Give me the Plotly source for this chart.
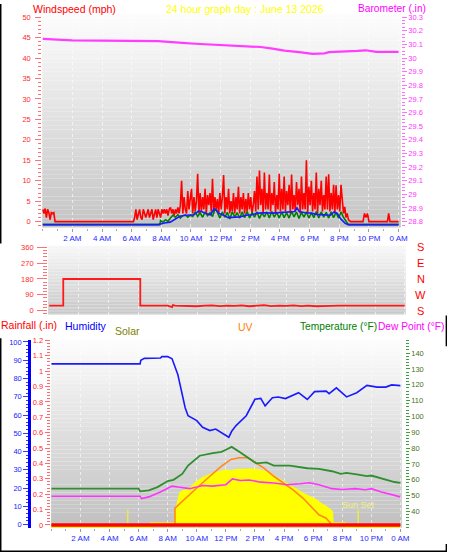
import plotly.graph_objects as go

W, H = 455, 554
FONT = "Liberation Sans, Arial, sans-serif"


def px(x):
    return x / W


def py(y):
    return 1 - y / H


# ============================ DATA ============================
hour_ticks = [2, 4, 6, 8, 10, 12, 14, 16, 18, 20, 22, 24]
hour_labels = ["2 AM", "4 AM", "6 AM", "8 AM", "10 AM", "12 PM",
               "2 PM", "4 PM", "6 PM", "8 PM", "10 PM", "0 AM"]

# ---- Wind gust (mph), 5-minute samples ----
GUST_STEP_H = 5 / 60
gust_night_start_h = 0.0
gust_night = [3, 2, 3.2, 1, 3, 2.2, 0.5, 2.2, 2, 2.2, 0]
gust_calm_t = [6.12]
gust_calm = [0]
gust_day_start_h = 6.2
gust_day = [
    1, 3, 0.5, 2, 3, 1, 0.5, 3, 2, 1, 2, 3,            # 6.2 h
    1, 2, 3, 0.5, 2, 3, 1, 3, 2, 1, 3, 2,              # 7.2 h
    3, 2, 3, 1.5, 3, 3.5, 2, 3, 1.5, 3, 2, 3.5,        # 8.2 h
    2, 4, 10, 2, 6, 3, 2, 7.5, 3, 5, 8, 2,             # 9.2 h
    6, 2.5, 5, 11.7, 2, 7, 2.5, 6, 3, 8, 2, 6.5,       # 10.2 h
    4, 7, 2.5, 10.5, 2, 6, 3, 5.5, 2, 7, 3, 6,         # 11.2 h
    11.4, 2, 6, 3, 8, 2, 5, 2.5, 7, 2, 6, 3,           # 12.2 h
    8.5, 2, 6, 3, 7, 2, 5.5, 2.5, 7, 3, 6, 2,          # 13.2 h
    4, 7.5, 2.5, 11, 3, 12.5, 4, 8, 2, 12, 3, 7,       # 14.2 h
    3, 11.5, 2.5, 7, 4, 9.7, 2, 6.5, 3, 11.7, 2.5, 8,  # 15.2 h
    3, 11, 2.5, 7.5, 4, 9, 2, 11.5, 3, 6.5, 2.5, 9.7,  # 16.2 h
    4, 8, 2, 11, 3, 7, 3, 15, 2, 8.5, 4, 10,           # 17.2 h
    2.5, 7, 3, 12, 2, 8, 4, 10, 2.5, 6.5, 3, 11,       # 18.2 h
    3, 11.6, 2.5, 7, 3, 9, 2, 8.9, 3, 6.5, 2.5, 9,     # 19.2 h
    5, 2, 3.6, 1, 2, 0.5,                              # 20.2 h
]
gust_evening_t = [20.75, 21.6, 21.7, 21.8, 21.9, 22.0, 23.25, 23.33, 23.42, 24.0]
gust_evening = [0, 0, 2, 1, 2, 0, 0, 2, 0, 0]

# ---- Wind average (mph) ----
avg_t = [0, 7.8, 8.2, 8.6, 9.0, 9.3, 9.7, 10.2, 10.5, 10.7,
         11.0, 11.3, 11.55, 11.7, 11.9, 12.2, 12.5, 12.9, 13.3, 13.7,
         14.1, 14.5, 15.0, 15.5, 16.0, 16.3, 16.7, 17.0, 17.15, 17.3,
         17.7, 18.1, 18.5, 19.0, 19.4, 19.65, 19.85, 20.1, 20.4, 20.6, 24.0]
avg_v = [0, 0, 0.4, 0.6, 1.5, 2.1, 2.3, 2.4, 3.3, 3.2,
         2.7, 2.4, 3.8, 3.6, 2.7, 2.3, 1.7, 1.8, 1.9, 2.3,
         2.4, 2.8, 2.9, 2.8, 2.9, 3.1, 3.0, 3.2, 4.1, 3.2,
         2.9, 2.8, 2.5, 2.4, 2.3, 3.1, 2.8, 1.4, 0.3, 0, 0]

# ---- Wind low (mph), 10-minute samples ----
LOW_STEP_H = 10 / 60
low_start_h = 7.95
wind_low = [
    1.0, 0.6, 1.2, 0.8,
    1.6, 2.3, 1.8, 2.4, 1.6, 2.2, 2.4, 1.8, 2.3, 2.0,
    3.1, 2.0, 2.9, 1.8, 3.1, 2.2, 2.9, 2.0, 3.9,
    3.0, 1.6, 3.1, 1.8, 3.0, 1.4, 3.1, 1.9, 2.9, 1.6, 3.1, 1.7, 3.2, 1.6,
    3.0, 1.8, 3.1, 1.5, 2.9, 1.9, 3.1, 1.6, 3.2, 1.8, 3.0, 1.6, 3.1, 1.7,
    2.9, 1.6, 3.2, 1.9, 3.1, 1.5, 3.0, 1.8, 3.1, 1.6, 2.9, 1.7, 3.2, 1.6,
    3.1, 1.8, 3.0, 1.6, 3.1, 1.7, 3.0, 1.6, 3.1,
    1.8, 1.0, 0,
]

# ---- Barometer (in) ----
baro_t = [0, 1.1, 2.0, 7.8, 8.3, 9.4, 10.3, 11.5, 12.8, 13.8, 14.7,
          15.5, 16.3, 17.3, 18.2, 19.0, 19.3, 21.2, 21.8, 22.5, 24.0]
baro_v = [30.141, 30.137, 30.129, 30.124, 30.119, 30.112, 30.105, 30.098,
          30.094, 30.09, 30.081, 30.069, 30.054, 30.043, 30.031, 30.035,
          30.043, 30.052, 30.057, 30.045, 30.045]

# ---- Wind direction (deg) ----
dir_t = [0, 0.95, 0.95, 3.0, 6.15, 6.15, 7.0, 8.0, 8.3, 8.35, 8.5,
         9.0, 9.5, 10.0, 10.5, 11.0, 11.5, 12.0, 12.5, 13.0, 13.5, 14.0,
         14.5, 15.0, 15.5, 16.0, 16.5, 17.0, 17.5, 18.0, 18.5, 19.0, 19.5,
         20.0, 21.0, 21.5, 22.0, 23.0, 24.0]
dir_v = [28, 28, 180, 181, 180, 28, 27, 28, 20, 32, 29,
         27, 29, 25, 28, 30, 26, 29, 27, 30, 25, 28,
         31, 26, 29, 27, 30, 26, 28, 25, 28, 27, 28,
         28, 28, 26, 29, 28, 28]
dir_ticks = [0, 90, 180, 270, 360]
compass_labels = ["S", "W", "N", "E", "S"]

# ---- Humidity (%) ----
hum_t = [0, 6.1, 6.15, 6.4, 7.5, 7.6, 8.0, 8.3, 8.7, 9.0,
         9.2, 9.4, 10.0, 10.4, 10.9, 11.3, 11.8, 12.2, 12.4, 12.7,
         13.4, 14.0, 14.4, 14.7, 15.2, 15.6, 16.1, 17.0, 17.6, 18.1,
         18.9, 19.1, 19.6, 20.3, 21.0, 21.7, 22.4, 23.0, 23.4, 24.0]
hum_v = [88, 88, 90, 91, 91.2, 92, 92, 90.8, 82, 72,
         64, 59.6, 56.9, 53.3, 51.5, 52.3, 49.6, 47.8, 51.1, 54.2,
         59.6, 68.6, 69.1, 65, 69.5, 69.9, 69, 72.2, 68.5, 72.8,
         73.1, 71.7, 74.9, 69.9, 72.2, 76.2, 75.3, 75.3, 76.5, 76.1]

# ---- Temperature (F) ----
temp_t = [0, 6.0, 6.1, 6.7, 7.3, 8.0, 8.4, 9.0, 9.4, 10.2,
          11.1, 11.7, 12.0, 12.4, 13.0, 13.7, 14.1, 14.8, 15.3, 16.4,
          17.2, 17.6, 18.4, 19.3, 19.9, 20.3, 21.1, 21.7, 22.0, 22.9,
          23.6, 24.0]
temp_v = [54.4, 54.4, 52.7, 53.3, 55.4, 59.2, 60, 63.7, 69, 75.2,
          76.9, 77.7, 79, 80.8, 77.3, 72.7, 70.4, 71, 69, 69,
          67.9, 67.3, 66.9, 65.4, 63.7, 64.4, 63.3, 62.3, 62.7, 60.2,
          58.6, 58]

# ---- Dew point (F) ----
dew_t = [0, 6.1, 6.2, 6.7, 7.5, 8.3, 8.7, 9.5, 10.0, 10.4,
         11.1, 12.0, 12.45, 13.0, 13.6, 14.4, 15.3, 16.2, 17.1, 17.75,
         18.4, 19.3, 20.0, 20.9, 21.6, 22.0, 22.7, 23.4, 24.0]
dew_v = [49.6, 49.6, 48.1, 49.2, 52.3, 56, 55.4, 54.4, 55.4, 56.4,
         56, 56.9, 60.6, 59.6, 59.9, 58.5, 58, 56.9, 57.5, 58.1,
         56.9, 54.4, 53.9, 54.4, 53.75, 54.4, 52.3, 50.6, 49.2]

# ---- UV index ----
uv_t = [0, 8.5, 8.5, 9.1, 10.0, 10.9, 11.7, 12.35, 12.9, 13.5, 13.9,
        14.6, 15.3, 15.95, 16.6, 17.3, 18.1, 18.4, 18.9, 19.3, 24.0]
uv_v = [0, 0, 1.0, 1.5, 2.2, 2.9, 3.5, 3.9, 4.0, 4.0, 3.8,
        3.4, 2.9, 2.5, 2.1, 1.6, 0.9, 0.6, 0.4, 0, 0]

# ---- Solar (W/m2) ----
solar_t = [0, 6.8, 6.85, 8.5, 8.55, 8.7, 8.85, 9.0, 9.5, 10.0,
           10.4, 11.1, 12.0, 12.35, 12.7, 13.7, 14.15, 14.6, 15.05, 15.5,
           15.95, 16.4, 16.85, 17.3, 17.75, 18.15, 18.4, 18.9, 19.3, 19.35,
           20.2, 20.25, 24.0]
solar_v = [0, 0, 18, 18, 77, 120, 170, 179, 190, 226,
           246, 268, 284, 279, 287, 289, 287, 279, 268, 246,
           226, 206, 184, 168, 151, 138, 123, 102, 77, 18,
           18, 0, 0]
sunrise_h = 5.25
sunset_h = 21.1

# ---- Rainfall (in) ----
rain_t = [0, 24]
rain_v = [0, 0]

# ============================ BUILD ============================
gust_x = ([gust_night_start_h + i * GUST_STEP_H for i in range(len(gust_night))]
          + gust_calm_t
          + [gust_day_start_h + i * GUST_STEP_H for i in range(len(gust_day))]
          + gust_evening_t)
gust_y = gust_night + gust_calm + gust_day + gust_evening

low_x = [0, 7.9] + [low_start_h + i * LOW_STEP_H for i in range(len(wind_low))] + [24]
low_y = [0, 0] + wind_low + [0]

SUN_MARK_HEIGHT = 88

fig = go.Figure()

# Panel 1
fig.add_trace(go.Scatter(x=gust_x, y=gust_y, xaxis="x", yaxis="y", mode="lines",
                         line=dict(color="#ff0000", width=1.6)))
fig.add_trace(go.Scatter(x=baro_t, y=baro_v, xaxis="x", yaxis="y2", mode="lines",
                         line=dict(color="#ff3cff", width=2.2)))
fig.add_trace(go.Scatter(x=low_x, y=low_y, xaxis="x", yaxis="y3", mode="lines",
                         line=dict(color="#008000", width=1.6)))
fig.add_trace(go.Scatter(x=avg_t, y=avg_v, xaxis="x", yaxis="y3", mode="lines",
                         line=dict(color="#1a1aff", width=1.6)))

# Panel 2
fig.add_trace(go.Scatter(x=dir_t, y=dir_v, xaxis="x2", yaxis="y4", mode="lines",
                         line=dict(color="#ff1a1a", width=1.8)))

# Panel 3
fig.add_trace(go.Scatter(x=solar_t, y=solar_v, xaxis="x3", yaxis="y5", mode="lines",
                         fill="tozeroy", fillcolor="#ffff00",
                         line=dict(color="#ffff00", width=2)))
fig.add_trace(go.Scatter(x=[sunrise_h, sunrise_h, None, sunset_h, sunset_h],
                         y=[0, SUN_MARK_HEIGHT, None, 0, SUN_MARK_HEIGHT],
                         xaxis="x3", yaxis="y5", mode="lines",
                         line=dict(color="#eaea50", width=1.5)))
fig.add_trace(go.Scatter(x=uv_t, y=uv_v, xaxis="x3", yaxis="y6", mode="lines",
                         line=dict(color="#ff8a1a", width=1.6)))
fig.add_trace(go.Scatter(x=dew_t, y=dew_v, xaxis="x3", yaxis="y7", mode="lines",
                         line=dict(color="#ff33ff", width=1.6)))
fig.add_trace(go.Scatter(x=temp_t, y=temp_v, xaxis="x3", yaxis="y7", mode="lines",
                         line=dict(color="#2f8f2f", width=1.8)))
fig.add_trace(go.Scatter(x=hum_t, y=hum_v, xaxis="x3", yaxis="y8", mode="lines",
                         line=dict(color="#1a1aff", width=1.6)))
fig.add_trace(go.Scatter(x=rain_t, y=rain_v, xaxis="x3", yaxis="y9", mode="lines",
                         line=dict(color="#ff0000", width=3.5)))

# ---------------- shapes: gradients & borders ----------------
shapes = []


def gradient(x_left, x_right, y_top, y_bot, g_top, g_bot, n=48):
    for i in range(n):
        t = (i + 0.5) / n
        g = int(round(g_top + (g_bot - g_top) * t))
        shapes.append(dict(type="rect", xref="paper", yref="paper", layer="below",
                           x0=px(x_left), x1=px(x_right),
                           y0=py(y_top + (y_bot - y_top) * i / n),
                           y1=py(y_top + (y_bot - y_top) * (i + 1) / n),
                           fillcolor=f"rgb({g},{g},{g})", line=dict(width=0)))


gradient(43, 408, 10, 226, 253, 196)
gradient(49, 413, 244.3, 314, 248, 198)
gradient(52, 409, 340, 529.5, 253, 192)


def black(x0, x1, y0, y1):
    shapes.append(dict(type="rect", xref="paper", yref="paper", layer="above",
                       x0=px(x0), x1=px(x1), y0=py(y1), y1=py(y0),
                       fillcolor="#000000", line=dict(width=0)))


black(0, 1.5, 0, 242)
black(0, 1.5, 338, 554)
black(0, 455, 552.6, 554)
black(453.6, 455, 315, 346)
black(453.6, 455, 546, 554)

# ---------------- annotations ----------------
ann = []


def label(text, x_left, y_c, color, size=10.5):
    ann.append(dict(text=text, x=px(x_left), y=py(y_c), xref="paper", yref="paper",
                    xanchor="left", yanchor="middle", showarrow=False, borderpad=0,
                    font=dict(family=FONT, size=size, color=color)))


label("Windspeed (mph)", 33, 5.5, "#ff0000")
label("24 hour graph day : June 13 2026", 168, 5.5, "#ffff00")
label("Barometer (.in)", 363, 4.5, "#ff00ff", size=10.2)
label("Rainfall (.in)", 0, 325, "#ff0000")
label("Humidity", 65, 325.5, "#0000ff")
label("Solar", 116.5, 330.5, "#808000")
label("UV", 241, 326.5, "#ff8000")
label("Temperature (°F)", 304, 326, "#008000", size=10.2)
label("Dew Point (°F)", 384, 326, "#ff00ff", size=10.2)

for v, t in zip(dir_ticks, compass_labels):
    ann.append(dict(text=t, x=px(428.5), y=v, xref="paper", yref="y4",
                    xanchor="center", yanchor="middle", showarrow=False,
                    font=dict(family=FONT, size=11, color="#ff0000")))

ann.append(dict(text="Sun Set", x=sunset_h, y=py(506.5), xref="x3", yref="paper",
                xanchor="center", yanchor="middle", showarrow=False,
                font=dict(family=FONT, size=9, color="#f2ee80")))

# ---------------- axes ----------------
tickfont_x = dict(family=FONT, size=8, color="#2828ff")


def xaxis(dom, rng, anchor, labels=True):
    return dict(domain=[px(dom[0]), px(dom[1])], range=rng, anchor=anchor,
                tickmode="array", tickvals=hour_ticks, ticktext=hour_labels,
                showticklabels=labels, tickfont=tickfont_x,
                ticks="outside" if labels else "", ticklen=3, tickcolor="#9a9a9a",
                minor=dict(tickmode="linear", tick0=0, dtick=1,
                           ticks="outside" if labels else "", ticklen=2,
                           tickcolor="#a8a8a8", showgrid=False),
                showgrid=True, gridcolor="rgba(255,255,255,0.6)", griddash="dot",
                gridwidth=1, zeroline=False, showline=False, fixedrange=True)


def yfont(color):
    return dict(family=FONT, size=7.5, color=color)


layout = dict(
    width=W, height=H, autosize=False,
    margin=dict(l=0, r=0, t=0, b=0, pad=0),
    paper_bgcolor="#ffffff", plot_bgcolor="rgba(0,0,0,0)",
    showlegend=False, font=dict(family=FONT),
    shapes=shapes, annotations=ann,
    xaxis=xaxis((43, 408), [-0.03, 24.15], "y"),
    xaxis2=xaxis((49, 413), [-0.07, 24.07], "y4", labels=False),
    xaxis3=xaxis((52, 409), [-0.02, 24.1], "y5"),
    yaxis=dict(domain=[py(226), py(10)], range=[-1.45, 50.8], anchor="x",
               tickmode="linear", tick0=0, dtick=5, tickfont=yfont("#ff2a2a"),
               ticks="outside", ticklen=6, tickcolor="#ff7070",
               minor=dict(dtick=1, ticks="outside", ticklen=3, tickcolor="#ff7070"),
               showgrid=False, zeroline=False, showline=False, ticklabelstandoff=3),
    yaxis2=dict(overlaying="y", side="right", anchor="x",
                range=[28.7565, 30.324], tickmode="linear", tick0=28.8, dtick=0.1,
                tickfont=yfont("#ff33ff"), ticks="outside", ticklen=5,
                tickcolor="#ff70ff",
                minor=dict(dtick=0.025, ticks="outside", ticklen=3, tickcolor="#ff70ff"),
                showgrid=False, zeroline=False, showline=False),
    yaxis3=dict(overlaying="y", range=[-0.72, 51.53], visible=False),
    yaxis4=dict(domain=[py(314), py(244.3)], range=[-22.5, 369.6], anchor="x2",
                tickmode="array", tickvals=dir_ticks, tickfont=yfont("#ff2a2a"),
                ticks="outside", ticklen=10, tickcolor="#ff7070",
                minor=dict(tickmode="linear", tick0=0, dtick=18, ticks="outside",
                           ticklen=4, tickcolor="#ff7070"),
                showgrid=False, zeroline=False, showline=False, ticklabelstandoff=2),
    yaxis5=dict(domain=[py(529.5), py(340)], range=[-4, 940], anchor="x3",
                visible=False),
    yaxis6=dict(overlaying="y5", range=[-0.17, 11], visible=False),
    yaxis7=dict(overlaying="y5", anchor="free", position=px(412), side="right",
                range=[29.7, 148.1], tickmode="array",
                tickvals=[40, 50, 60, 70, 80, 90, 100, 110, 120, 130, 140],
                tickfont=yfont("#4a7020"), ticks="outside", ticklen=4,
                tickcolor="#3ca03c",
                minor=dict(tickmode="linear", tick0=0, dtick=2, ticks="outside",
                           ticklen=3, tickcolor="#3ca03c"),
                showgrid=False, zeroline=False, showline=False),
    yaxis8=dict(overlaying="y5", anchor="free", position=px(29.5), side="left",
                range=[-1.73, 100.9], tickmode="linear", tick0=0, dtick=10,
                tickfont=yfont("#2020ff"), ticks="outside", ticklen=5,
                tickcolor="#3a3aff",
                minor=dict(dtick=2, ticks="outside", ticklen=2.5, tickcolor="#3a3aff"),
                showline=True, linecolor="#0000ff", linewidth=2.5,
                showgrid=False, zeroline=False),
    yaxis9=dict(overlaying="y5", anchor="free", position=px(50.5), side="left",
                range=[-0.018, 1.2005], tickmode="linear", tick0=0, dtick=0.1,
                tickfont=yfont("#ff2a2a"), ticks="outside", ticklen=5,
                tickcolor="#ff6a6a",
                minor=dict(dtick=0.02, ticks="outside", ticklen=2.5, tickcolor="#ff6a6a"),
                showgrid=False, zeroline=False, showline=False),
)
fig.update_layout(**layout)
for tr in fig.data:
    tr.hoverinfo = "skip"

fig.write_html("out.html")
